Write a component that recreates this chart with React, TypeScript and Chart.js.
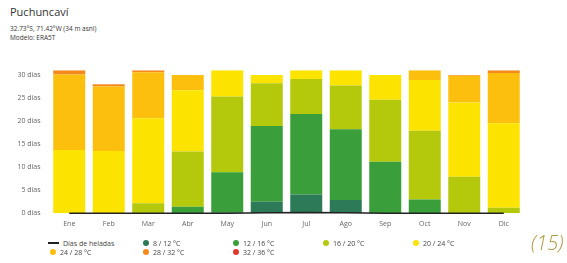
import React, { useEffect, useRef } from "react";
import { Chart, registerables } from "chart.js";

Chart.register(...registerables);

const months = ["Ene", "Feb", "Mar", "Abr", "May", "Jun", "Jul", "Ago", "Sep", "Oct", "Nov", "Dic"];
const rangeLabels = ["8 / 12 °C", "12 / 16 °C", "16 / 20 °C", "20 / 24 °C", "24 / 28 °C", "28 / 32 °C", "32 / 36 °C"];
const rangeColors = ["#2c7a58", "#3a9e3a", "#b4c90c", "#fde400", "#fdbf0e", "#f48a1c", "#e0392b"];

const d8_12 = [0, 0, 0, 0, 0.2, 2.5, 4.1, 2.9, 0, 0, 0, 0];
const d12_16 = [0, 0, 0, 1.4, 8.7, 16.4, 17.4, 15.3, 11.2, 3.0, 0, 0];
const d16_20 = [0, 0, 2.2, 12.0, 16.4, 9.3, 7.6, 9.5, 13.4, 14.9, 7.9, 1.2];
const d20_24 = [13.7, 13.5, 18.4, 13.3, 5.7, 1.8, 1.9, 3.3, 5.4, 11.0, 16.1, 18.3];
const d24_28 = [16.4, 14.0, 10.0, 3.3, 0, 0, 0, 0, 0, 2.1, 5.8, 10.9];
const d28_32 = [0.9, 0.5, 0.4, 0, 0, 0, 0, 0, 0, 0, 0.2, 0.6];
const d32_36 = [0, 0, 0, 0, 0, 0, 0, 0, 0, 0, 0, 0];
const heladas = [0, 0, 0, 0, 0, 0.1, 0.2, 0.1, 0, 0, 0, 0];
const yTicks = [0, 5, 10, 15, 20, 25, 30];

const series = [d8_12, d12_16, d16_20, d20_24, d24_28, d28_32, d32_36];

export default function App() {
  const ref = useRef<HTMLCanvasElement | null>(null);

  useEffect(() => {
    if (!ref.current) return;
    const datasets: any[] = [
      {
        type: "line",
        label: "Días de heladas",
        data: heladas,
        borderColor: "#222222",
        borderWidth: 1.5,
        pointRadius: 0,
        fill: false,
        clip: false,
        stack: "heladas",
        order: 0,
      },
      ...series.map((s, i) => ({
        type: "bar",
        label: rangeLabels[i],
        data: s,
        backgroundColor: rangeColors[i],
        borderWidth: 0,
        stack: "temp",
        order: 1,
        barPercentage: 0.9,
        categoryPercentage: 0.9,
      })),
    ];
    const chart = new Chart(ref.current, {
      type: "bar",
      data: { labels: months, datasets },
      options: {
        animation: false,
        responsive: false,
        maintainAspectRatio: false,
        layout: { padding: { left: 0, right: 43.5, top: 70.3, bottom: 0 } },
        plugins: { legend: { display: false }, tooltip: { enabled: false } },
        scales: {
          x: {
            stacked: true,
            grid: { display: false, drawTicks: false },
            border: { display: false },
            ticks: { font: { size: 7, family: "Open Sans" }, color: "#666", padding: 6 },
            afterFit: (s: any) => { s.height = 16.7; },
          },
          y: {
            stacked: true,
            min: 0,
            max: 31,
            grid: { display: false, drawTicks: false },
            border: { display: false },
            afterBuildTicks: (s: any) => { s.ticks = yTicks.map((v) => ({ value: v })); },
            ticks: {
              font: { size: 7, family: "Open Sans" },
              color: "#666",
              padding: 9,
              callback: (v: any) => `${v} días`,
            },
            afterFit: (s: any) => { s.width = 49.5; },
          },
        },
      },
    });
    return () => chart.destroy();
  }, []);

  const legendItems = [
    { label: "Días de heladas", line: true, color: "#222" },
    ...rangeLabels.map((l, i) => ({ label: l, line: false, color: rangeColors[i] })),
  ];
  const colX = [48, 141, 231, 321, 411];

  return (
    <div style={{ position: "fixed", left: 0, top: 0, width: 567, height: 263, background: "#fff", fontFamily: "Open Sans, sans-serif" }}>
      <div style={{ position: "absolute", left: 10, top: 5, fontSize: 11, color: "#333", lineHeight: "14px" }}>Puchuncaví</div>
      <div style={{ position: "absolute", left: 10, top: 24, fontSize: 6.5, color: "#333", lineHeight: "9px" }}>32.73°S, 71.42°W (34 m asnl)</div>
      <div style={{ position: "absolute", left: 10, top: 33, fontSize: 6.5, color: "#333", lineHeight: "9px" }}>Modelo: ERA5T</div>
      <canvas ref={ref} width={567} height={230} style={{ position: "absolute", left: 0, top: 0, width: 567, height: 230 }} />
      {legendItems.map((it, i) => {
        const row = i < 5 ? 0 : 1;
        const col = i < 5 ? i : i - 5;
        const x = colX[col];
        const y = row === 0 ? 243 : 252;
        return (
          <div key={i} style={{ position: "absolute", left: x, top: y - 5, height: 10, display: "flex", alignItems: "center", fontSize: 7, color: "#444", whiteSpace: "nowrap" }}>
            {it.line ? (
              <span style={{ display: "inline-block", width: 11, height: 1.5, background: it.color, marginRight: 4 }} />
            ) : (
              <span style={{ display: "inline-block", width: 6, height: 6, borderRadius: 3, background: it.color, marginRight: 4, marginLeft: 2 }} />
            )}
            <span>{it.label}</span>
          </div>
        );
      })}
      <div style={{ position: "absolute", left: 531, top: 230, fontSize: 20, fontStyle: "italic", fontWeight: 300, color: "#b09640", lineHeight: "26px" }}>(15)</div>
    </div>
  );
}
